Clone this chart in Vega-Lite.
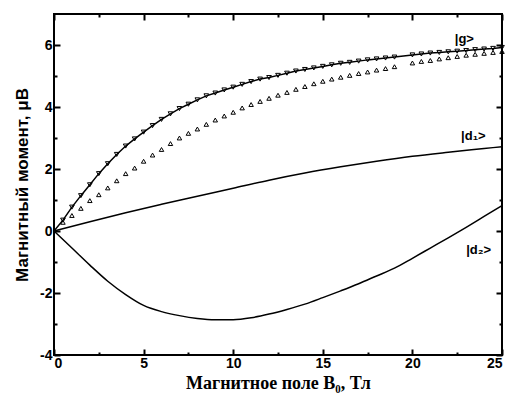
{
  "$schema": "https://vega.github.io/schema/vega-lite/v6.json",
  "width": 448,
  "height": 341,
  "autosize": "none",
  "padding": {"left": 54, "top": 14, "right": 10, "bottom": 46},
  "background": "white",
  "config": {
    "view": {"stroke": "black", "strokeWidth": 2}
  },
  "datasets": {
    "g": [
      {"B": 0, "m": 0}, {"B": 0.5, "m": 0.35}, {"B": 1.0, "m": 0.77}, {"B": 1.5, "m": 1.14}, {"B": 2.0, "m": 1.49},
      {"B": 2.5, "m": 1.85}, {"B": 3.0, "m": 2.17}, {"B": 3.5, "m": 2.47}, {"B": 4.0, "m": 2.74}, {"B": 4.5, "m": 2.97},
      {"B": 5.0, "m": 3.19}, {"B": 5.5, "m": 3.4}, {"B": 6.0, "m": 3.6}, {"B": 6.5, "m": 3.78}, {"B": 7.0, "m": 3.95},
      {"B": 7.5, "m": 4.09}, {"B": 8.0, "m": 4.23}, {"B": 8.5, "m": 4.36}, {"B": 9.0, "m": 4.45}, {"B": 9.5, "m": 4.55},
      {"B": 10.0, "m": 4.64}, {"B": 10.5, "m": 4.73}, {"B": 11.0, "m": 4.82}, {"B": 11.5, "m": 4.9}, {"B": 12.0, "m": 4.95},
      {"B": 12.5, "m": 5.02}, {"B": 13.0, "m": 5.09}, {"B": 13.5, "m": 5.16}, {"B": 14.0, "m": 5.21}, {"B": 14.5, "m": 5.26},
      {"B": 15.0, "m": 5.31}, {"B": 15.5, "m": 5.36}, {"B": 16.0, "m": 5.41}, {"B": 16.5, "m": 5.44}, {"B": 17.0, "m": 5.48},
      {"B": 17.5, "m": 5.52}, {"B": 18.0, "m": 5.55}, {"B": 18.5, "m": 5.58}, {"B": 19.0, "m": 5.61}, {"B": 20.0, "m": 5.68},
      {"B": 20.5, "m": 5.71}, {"B": 21.0, "m": 5.74}, {"B": 21.5, "m": 5.76}, {"B": 22.0, "m": 5.78}, {"B": 22.5, "m": 5.8},
      {"B": 23.0, "m": 5.82}, {"B": 23.5, "m": 5.85}, {"B": 24.0, "m": 5.87}, {"B": 24.5, "m": 5.89}, {"B": 25.0, "m": 5.92}
    ],
    "up": [
      {"B": 0.5, "m": 0.28}, {"B": 1.0, "m": 0.5}, {"B": 1.5, "m": 0.73}, {"B": 2.0, "m": 0.98}, {"B": 2.5, "m": 1.17},
      {"B": 3.0, "m": 1.39}, {"B": 3.5, "m": 1.62}, {"B": 4.0, "m": 1.85}, {"B": 4.5, "m": 2.03}, {"B": 5.0, "m": 2.25},
      {"B": 5.5, "m": 2.45}, {"B": 6.0, "m": 2.63}, {"B": 6.5, "m": 2.82}, {"B": 7.0, "m": 3.0}, {"B": 7.5, "m": 3.15},
      {"B": 8.0, "m": 3.29}, {"B": 8.5, "m": 3.44}, {"B": 9.0, "m": 3.58}, {"B": 9.5, "m": 3.71}, {"B": 10.0, "m": 3.83},
      {"B": 10.5, "m": 3.97}, {"B": 11.0, "m": 4.08}, {"B": 11.5, "m": 4.18}, {"B": 12.0, "m": 4.28}, {"B": 12.5, "m": 4.38},
      {"B": 13.0, "m": 4.47}, {"B": 13.5, "m": 4.57}, {"B": 14.0, "m": 4.66}, {"B": 14.5, "m": 4.75}, {"B": 15.0, "m": 4.83},
      {"B": 15.5, "m": 4.9}, {"B": 16.0, "m": 4.96}, {"B": 16.5, "m": 5.02}, {"B": 17.0, "m": 5.08}, {"B": 17.5, "m": 5.13},
      {"B": 18.0, "m": 5.19}, {"B": 18.5, "m": 5.24}, {"B": 19.0, "m": 5.3}, {"B": 20.0, "m": 5.42}, {"B": 20.5, "m": 5.47},
      {"B": 21.0, "m": 5.5}, {"B": 21.5, "m": 5.55}, {"B": 22.0, "m": 5.59}, {"B": 22.5, "m": 5.63}, {"B": 23.0, "m": 5.67},
      {"B": 23.5, "m": 5.7}, {"B": 24.0, "m": 5.73}, {"B": 24.5, "m": 5.76}, {"B": 25.0, "m": 5.79}
    ],
    "d1": [
      {"B": 0, "m": 0}, {"B": 2, "m": 0.3}, {"B": 4, "m": 0.59}, {"B": 6, "m": 0.86}, {"B": 8, "m": 1.12},
      {"B": 10, "m": 1.38}, {"B": 12, "m": 1.64}, {"B": 14, "m": 1.87}, {"B": 16, "m": 2.07}, {"B": 18, "m": 2.25},
      {"B": 20, "m": 2.41}, {"B": 22, "m": 2.54}, {"B": 24, "m": 2.66}, {"B": 25, "m": 2.72}
    ],
    "d2": [
      {"B": 0, "m": 0}, {"B": 1, "m": -0.55}, {"B": 2, "m": -1.1}, {"B": 3, "m": -1.62}, {"B": 4, "m": -2.05},
      {"B": 5, "m": -2.4}, {"B": 6, "m": -2.6}, {"B": 7, "m": -2.73}, {"B": 8, "m": -2.82}, {"B": 9, "m": -2.86},
      {"B": 10, "m": -2.86}, {"B": 11, "m": -2.8}, {"B": 12, "m": -2.68}, {"B": 13, "m": -2.53}, {"B": 14, "m": -2.36},
      {"B": 15, "m": -2.15}, {"B": 16, "m": -1.93}, {"B": 17, "m": -1.7}, {"B": 18, "m": -1.45}, {"B": 19, "m": -1.2},
      {"B": 20, "m": -0.88}, {"B": 21, "m": -0.55}, {"B": 22, "m": -0.22}, {"B": 23, "m": 0.12}, {"B": 24, "m": 0.47},
      {"B": 25, "m": 0.82}
    ],
    "labels": [
      {"B": 22.9, "m": 6.2, "t": "|g>"},
      {"B": 23.4, "m": 3.06, "t": "|d₁>"},
      {"B": 23.7, "m": -0.6, "t": "|d₂>"}
    ]
  },
  "resolve": {"axis": {"x": "independent", "y": "independent"}},
  "layer": [
    {
      "data": {"name": "g"},
      "mark": {"type": "line", "color": "black", "strokeWidth": 1.5},
      "encoding": {
        "x": {"field": "B", "type": "quantitative", "scale": {"domain": [0, 25], "nice": false, "zero": false},
          "axis": {"orient": "bottom", "values": [0, 5, 10, 15, 20, 25], "tickSize": -6, "tickColor": "black", "tickWidth": 2, "grid": false, "domain": false, "labelPadding": 7,
            "labelFont": "Liberation Sans", "labelFontWeight": "bold", "labelFontSize": 14, "labelColor": "black",
            "title": "Магнитное поле B₀, Тл", "titleFont": "Liberation Serif", "titleFontSize": 18, "titleFontWeight": "bold", "titleColor": "black", "titlePadding": 4}},
        "y": {"field": "m", "type": "quantitative", "scale": {"domain": [-4, 7], "nice": false, "zero": false},
          "axis": {"orient": "left", "values": [-4, -2, 0, 2, 4, 6], "tickSize": -6, "tickColor": "black", "tickWidth": 2, "grid": false, "domain": false, "labelPadding": 8,
            "labelFont": "Liberation Sans", "labelFontWeight": "bold", "labelFontSize": 14, "labelColor": "black",
            "labelExpr": "replace(datum.label, '−', '-')",
            "title": "Магнитный момент,   μB", "titleFont": "Liberation Sans", "titleFontSize": 17, "titleFontWeight": "bold", "titleColor": "black", "titlePadding": 8}}
      }
    },
    {
      "data": {"name": "g"},
      "mark": {"type": "point", "shape": "triangle-down", "filled": false, "color": "black", "strokeWidth": 1, "size": 22, "opacity": 1},
      "transform": [{"filter": "datum.B > 0"}],
      "encoding": {
        "x": {"field": "B", "type": "quantitative", "scale": {"domain": [0, 25], "nice": false, "zero": false},
          "axis": {"orient": "bottom", "values": [2.5, 7.5, 12.5, 17.5, 22.5], "tickSize": -3, "tickColor": "black", "tickWidth": 2, "grid": false, "domain": false, "labels": false, "title": null}},
        "y": {"field": "m", "type": "quantitative", "scale": {"domain": [-4, 7], "nice": false, "zero": false},
          "axis": {"orient": "left", "values": [-3, -1, 1, 3, 5], "tickSize": -3, "tickColor": "black", "tickWidth": 2, "grid": false, "domain": false, "labels": false, "title": null}}
      }
    },
    {
      "data": {"name": "up"},
      "mark": {"type": "point", "shape": "triangle-up", "filled": false, "color": "black", "strokeWidth": 1, "size": 20, "opacity": 1},
      "encoding": {
        "x": {"field": "B", "type": "quantitative", "scale": {"domain": [0, 25], "nice": false, "zero": false},
          "axis": {"orient": "top", "values": [0, 5, 10, 15, 20, 25], "tickSize": -6, "tickColor": "black", "tickWidth": 2, "grid": false, "domain": false, "labels": false, "title": null}},
        "y": {"field": "m", "type": "quantitative", "scale": {"domain": [-4, 7], "nice": false, "zero": false},
          "axis": {"orient": "right", "values": [-4, -2, 0, 2, 4, 6], "tickSize": -6, "tickColor": "black", "tickWidth": 2, "grid": false, "domain": false, "labels": false, "title": null}}
      }
    },
    {
      "data": {"name": "d1"},
      "mark": {"type": "line", "color": "black", "strokeWidth": 1.5, "interpolate": "monotone"},
      "encoding": {
        "x": {"field": "B", "type": "quantitative", "scale": {"domain": [0, 25], "nice": false, "zero": false},
          "axis": {"orient": "top", "values": [2.5, 7.5, 12.5, 17.5, 22.5], "tickSize": -3, "tickColor": "black", "tickWidth": 2, "grid": false, "domain": false, "labels": false, "title": null}},
        "y": {"field": "m", "type": "quantitative", "scale": {"domain": [-4, 7], "nice": false, "zero": false},
          "axis": {"orient": "right", "values": [-3, -1, 1, 3, 5], "tickSize": -3, "tickColor": "black", "tickWidth": 2, "grid": false, "domain": false, "labels": false, "title": null}}
      }
    },
    {
      "data": {"name": "d2"},
      "mark": {"type": "line", "color": "black", "strokeWidth": 1.5, "interpolate": "monotone"},
      "encoding": {
        "x": {"field": "B", "type": "quantitative", "scale": {"domain": [0, 25], "nice": false, "zero": false}, "axis": null},
        "y": {"field": "m", "type": "quantitative", "scale": {"domain": [-4, 7], "nice": false, "zero": false}, "axis": null}
      }
    },
    {
      "data": {"name": "labels"},
      "mark": {"type": "text", "font": "Liberation Sans", "fontWeight": "bold", "fontSize": 13, "color": "black", "align": "center", "baseline": "middle"},
      "encoding": {
        "x": {"field": "B", "type": "quantitative", "scale": {"domain": [0, 25], "nice": false, "zero": false}, "axis": null},
        "y": {"field": "m", "type": "quantitative", "scale": {"domain": [-4, 7], "nice": false, "zero": false}, "axis": null},
        "text": {"field": "t"}
      }
    }
  ]
}
